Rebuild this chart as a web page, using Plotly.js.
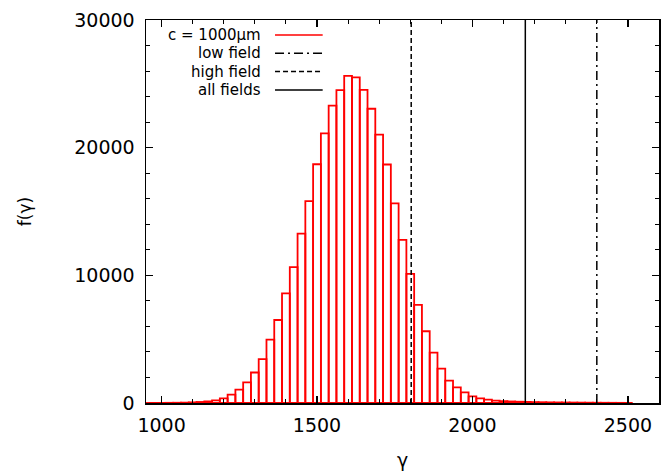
<!DOCTYPE html>
<html>
<head>
<meta charset="utf-8">
<script src="https://cdn.plot.ly/plotly-3.0.1.min.js"></script>
<style>html,body{margin:0;padding:0;background:#fff}#chart{width:667px;height:474px}</style>
</head>
<body>
<div id="chart"></div>
<script>
// Histogram bin centres (gamma) and counts f(gamma)
const gamma = [950, 975, 1000, 1025, 1050, 1075, 1100, 1125, 1150, 1175,
               1200, 1225, 1250, 1275, 1300, 1325, 1350, 1375, 1400, 1425,
               1450, 1475, 1500, 1525, 1550, 1575, 1600, 1625, 1650, 1675,
               1700, 1725, 1750, 1775, 1800, 1825, 1850, 1875, 1900, 1925,
               1950, 1975, 2000, 2025, 2050, 2075, 2100, 2125, 2150, 2175,
               2200, 2225, 2250, 2275, 2300, 2325, 2350, 2375, 2400, 2425,
               2450, 2475, 2500];
const counts = [5, 8, 10, 15, 20, 30, 50, 80, 125, 200,
                360, 650, 1040, 1610, 2390, 3430, 4960, 6500, 8590, 10640,
                13270, 15810, 18700, 21120, 23290, 24510, 25630, 25500, 24530, 23050,
                21020, 18680, 15640, 12770, 10120, 7690, 5620, 3940, 2690, 1760,
                1230, 830, 515, 360, 258, 190, 150, 120, 100, 85,
                70, 60, 50, 45, 40, 35, 30, 25, 20, 18,
                15, 12, 10];
// Cut positions (vertical lines)
const lowFieldX = [2400, 2400];
const highFieldX = [1803, 1803];
const allFieldsX = [2170, 2170];
const lineY = [0, 30000];
// Axis ticks
const xTickVals = [1000, 1500, 2000, 2500];
const yTickVals = [0, 10000, 20000, 30000];
// Legend labels
const legendLabels = ['c = 1000\u03bcm', 'low field', 'high field', 'all fields'];
const xTitle = '\u03b3';
const yTitle = 'f(\u03b3)';

const FONT = 'DejaVu Sans, Liberation Sans, Arial, sans-serif';

const traces = [
  {type: 'bar', x: gamma, y: counts, width: 25,
   marker: {color: 'rgba(0,0,0,0)', line: {color: '#ff0000', width: 1.8}},
   showlegend: false, hoverinfo: 'x+y'},
  {type: 'scatter', mode: 'lines', x: highFieldX, y: lineY, showlegend: false,
   line: {color: '#000', width: 1.5, dash: '5px,3px'}},
  {type: 'scatter', mode: 'lines', x: allFieldsX, y: lineY, showlegend: false,
   line: {color: '#000', width: 1.5}},
  {type: 'scatter', mode: 'lines', x: lowFieldX, y: lineY, showlegend: false,
   line: {color: '#000', width: 1.5, dash: '9px,4px,2px,4px'}}
];

// manual gnuplot-style key: text right-aligned, sample line to the right
const keyRowsY = [0.961, 0.913, 0.8655, 0.817];
const keyColors = ['#ff0000', '#000', '#000', '#000'];
const keyDash = ['solid', '9px,4px,2px,4px', '5px,3px', 'solid'];
const annotations = legendLabels.map((t, i) => ({
  text: t, xref: 'paper', yref: 'paper', x: 0.2287, y: keyRowsY[i],
  xanchor: 'right', yanchor: 'middle', showarrow: false,
  font: {family: FONT, size: 15, color: '#000'}
}));
const shapes = legendLabels.map((t, i) => ({
  type: 'line', xref: 'paper', yref: 'paper', x0: 0.2515, x1: 0.3444,
  y0: keyRowsY[i], y1: keyRowsY[i],
  line: {color: keyColors[i], width: 1.5, dash: keyDash[i]}
}));

const axisCommon = {
  showline: true, linecolor: '#000', linewidth: 1.5, mirror: 'allticks',
  ticks: 'inside', ticklen: 7, tickwidth: 1.2, tickcolor: '#000',
  showgrid: false, zeroline: false, tickformat: 'd', separatethousands: false,
  tickfont: {family: FONT, size: 19, color: '#000'}
};

const layout = {
  width: 667, height: 474,
  margin: {l: 146, r: 8, t: 20, b: 71},
  paper_bgcolor: '#fff', plot_bgcolor: '#fff',
  bargap: 0,
  showlegend: false,
  xaxis: Object.assign({}, axisCommon, {
    range: [950, 2600], tickmode: 'array', tickvals: xTickVals,
    ticktext: xTickVals.map(String), ticklabelstandoff: 5,
    minor: {dtick: 100, tick0: 1000, ticks: 'inside', ticklen: 4, tickcolor: '#000', tickwidth: 1},
    title: {text: xTitle, font: {family: FONT, size: 19, color: '#000'}, standoff: 18}
  }),
  yaxis: Object.assign({}, axisCommon, {
    range: [0, 30000], tickmode: 'array', tickvals: yTickVals,
    ticktext: yTickVals.map(String), ticklabelstandoff: 6,
    minor: {dtick: 2000, tick0: 0, ticks: 'inside', ticklen: 4, tickcolor: '#000', tickwidth: 1},
    title: {text: yTitle, font: {family: FONT, size: 17, color: '#000'}, standoff: 38}
  }),
  annotations: annotations,
  shapes: shapes
};

Plotly.newPlot('chart', traces, layout, {staticPlot: true, displayModeBar: false});
</script>
</body>
</html>
